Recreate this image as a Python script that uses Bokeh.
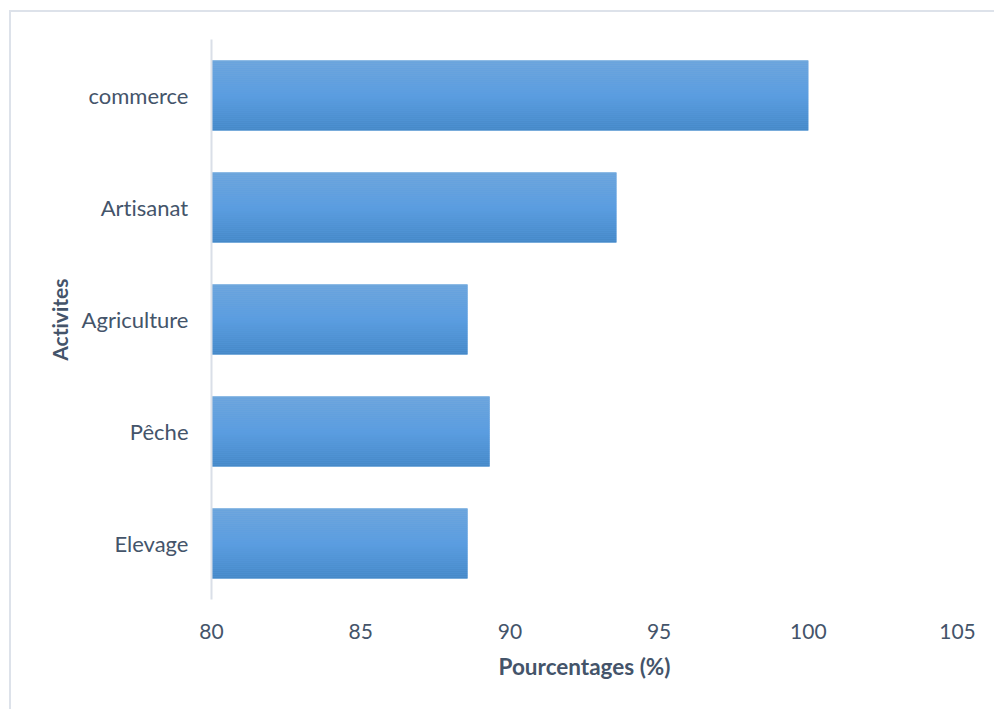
from bokeh.plotting import figure
from bokeh.models import FactorRange, Range1d, ColumnDataSource, FixedTicker
from bokeh.transform import dodge
from bokeh.embed import file_html
from bokeh.resources import INLINE

categories = ["commerce", "Artisanat", "Agriculture", "Pêche", "Elevage"]
values = [100, 93.57, 88.58, 89.32, 88.58]
x_ticks = [80, 85, 90, 95, 100, 105]

FONT = "Lato"
TXT = "#44546a"

src = ColumnDataSource(dict(cat=categories, val=values, base=[x_ticks[0]] * len(values)))

p = figure(
    width=994, height=709,
    y_range=FactorRange(*reversed(categories)),
    x_range=Range1d(x_ticks[0], x_ticks[-1]),
    output_backend="svg", toolbar_location=None,
    min_border_left=211, min_border_right=37, min_border_top=39, min_border_bottom=110,
)
p.outline_line_color = None
p.xgrid.visible = False
p.ygrid.visible = False
p.background_fill_color = "white"
p.border_fill_color = None

BAR_H = 0.625
p.hbar(y="cat", left="base", right="val", height=BAR_H, source=src,
       fill_color="#5b9de0", line_color=None)

stops = [(0.0, (113, 167, 220)), (0.5, (91, 157, 224)), (1.0, (69, 136, 199))]

def interp(t):
    for (t0, c0), (t1, c1) in zip(stops[:-1], stops[1:]):
        if t <= t1:
            f = (t - t0) / (t1 - t0)
            return "#%02x%02x%02x" % tuple(int(round(a + (b - a) * f)) for a, b in zip(c0, c1))
    return "#%02x%02x%02x" % stops[-1][1]

N = 35
s = BAR_H / N
for i in range(N):
    off = BAR_H / 2 - (i + 0.5) * s
    p.hbar(y=dodge("cat", off, range=p.y_range), left="base", right="val", height=s * 1.02,
           source=src, fill_color=interp((i + 0.5) / N), line_color=None)

xa = p.xaxis[0]
xa.ticker = FixedTicker(ticks=x_ticks)
xa.axis_line_color = None
xa.major_tick_line_color = None
xa.minor_tick_line_color = None
xa.major_label_text_font = FONT
xa.major_label_text_font_size = "21px"
xa.major_label_text_color = TXT
xa.major_label_standoff = 18
xa.axis_label = "Pourcentages (%)"
xa.axis_label_text_font = FONT
xa.axis_label_text_font_size = "22.5px"
xa.axis_label_text_font_style = "bold"
xa.axis_label_text_color = TXT
xa.axis_label_standoff = 11

ya = p.yaxis[0]
ya.axis_line_color = "#dadfe8"
ya.axis_line_width = 2
ya.major_tick_line_color = None
ya.minor_tick_line_color = None
ya.major_label_text_font = FONT
ya.major_label_text_font_size = "22px"
ya.major_label_text_color = TXT
ya.major_label_standoff = 17
ya.axis_label = "Activites"
ya.axis_label_text_font = FONT
ya.axis_label_text_font_size = "21px"
ya.axis_label_text_font_style = "bold"
ya.axis_label_text_color = TXT
ya.axis_label_standoff = 7

# chart-area border (top and left edges visible), drawn as the page background
p.styles = {
    "background-color": "white",
    "background-image": "linear-gradient(#dde2ea, #dde2ea), linear-gradient(#dde2ea, #dde2ea)",
    "background-size": "100% 2px, 2px 100%",
    "background-position": "9px 10px, 9px 10px",
    "background-repeat": "no-repeat",
    "font-variant-ligatures": "none",
    "font-feature-settings": "'liga' 0, 'clig' 0",
}

open("out.html", "w").write(file_html(p, INLINE))
